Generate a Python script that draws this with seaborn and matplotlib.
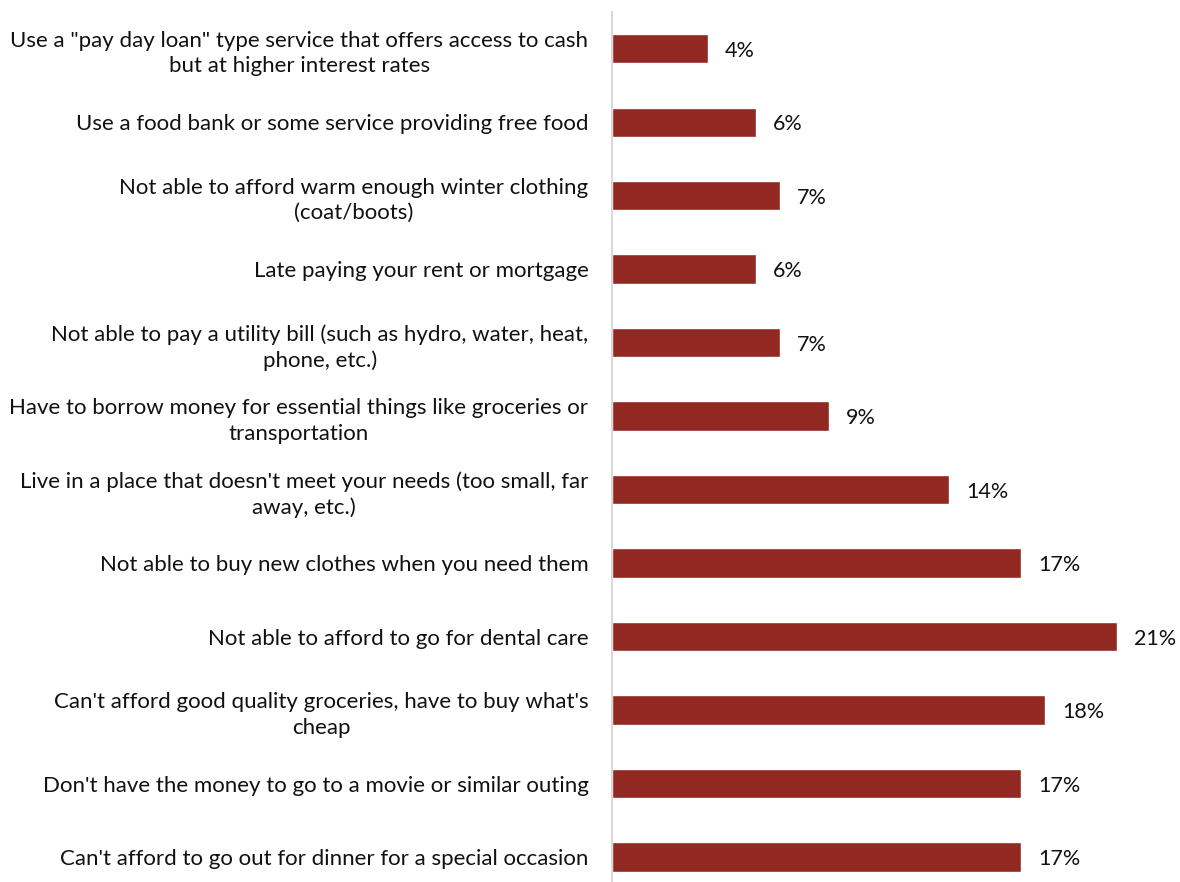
import numpy as np
import pandas as pd
import seaborn as sns
from matplotlib import pyplot as plt

# Survey items (top to bottom) and share of respondents
items = [
    'Use a "pay day loan" type service that offers access to cash\nbut at higher interest rates',
    'Use a food bank or some service providing free food',
    'Not able to afford warm enough winter clothing\n(coat/boots)',
    'Late paying your rent or mortgage',
    'Not able to pay a utility bill (such as hydro, water, heat,\nphone, etc.)',
    'Have to borrow money for essential things like groceries or\ntransportation',
    "Live in a place that doesn't meet your needs (too small, far\naway, etc.)",
    'Not able to buy new clothes when you need them',
    'Not able to afford to go for dental care',
    "Can't afford good quality groceries, have to buy what's\ncheap",
    "Don't have the money to go to a movie or similar outing",
    "Can't afford to go out for dinner for a special occasion",
]
pct = [4, 6, 7, 6, 7, 9, 14, 17, 21, 18, 17, 17]

data = pd.DataFrame({'item': items, 'pct': pct})

sns.set_style('white')
plt.rcParams['font.family'] = ['Lato', 'DejaVu Sans']

fig = plt.figure(figsize=(11.8, 8.82), dpi=100)
ax = fig.add_axes([612 / 1180, 0, 568 / 1180, 870 / 882])

sns.barplot(data=data, x='pct', y='item', orient='h', color='#922822',
            width=0.4, saturation=1, ax=ax)

for i, v in enumerate(pct):
    ax.text(v + 0.7, i + 0.03, f'{v}%', va='center', ha='left', fontsize=15.5, color='#111111')

ax.set_xlim(0, 568 / 24.07)
ax.set_ylim(11.34, -0.5)
ax.set_xlabel('')
ax.set_ylabel('')
ax.set_xticks([])
ax.tick_params(axis='y', length=0, pad=17, labelsize=16, labelcolor='#111111')
for lbl in ax.get_yticklabels():
    lbl.set_horizontalalignment('right')
    lbl.set_multialignment('center')
    lbl.set_linespacing(1.35)

for s in ['top', 'right', 'bottom']:
    ax.spines[s].set_visible(False)
ax.spines['left'].set_color('#d9d9d9')
ax.spines['left'].set_linewidth(1.5)

fig.savefig('out.png', dpi=100)
